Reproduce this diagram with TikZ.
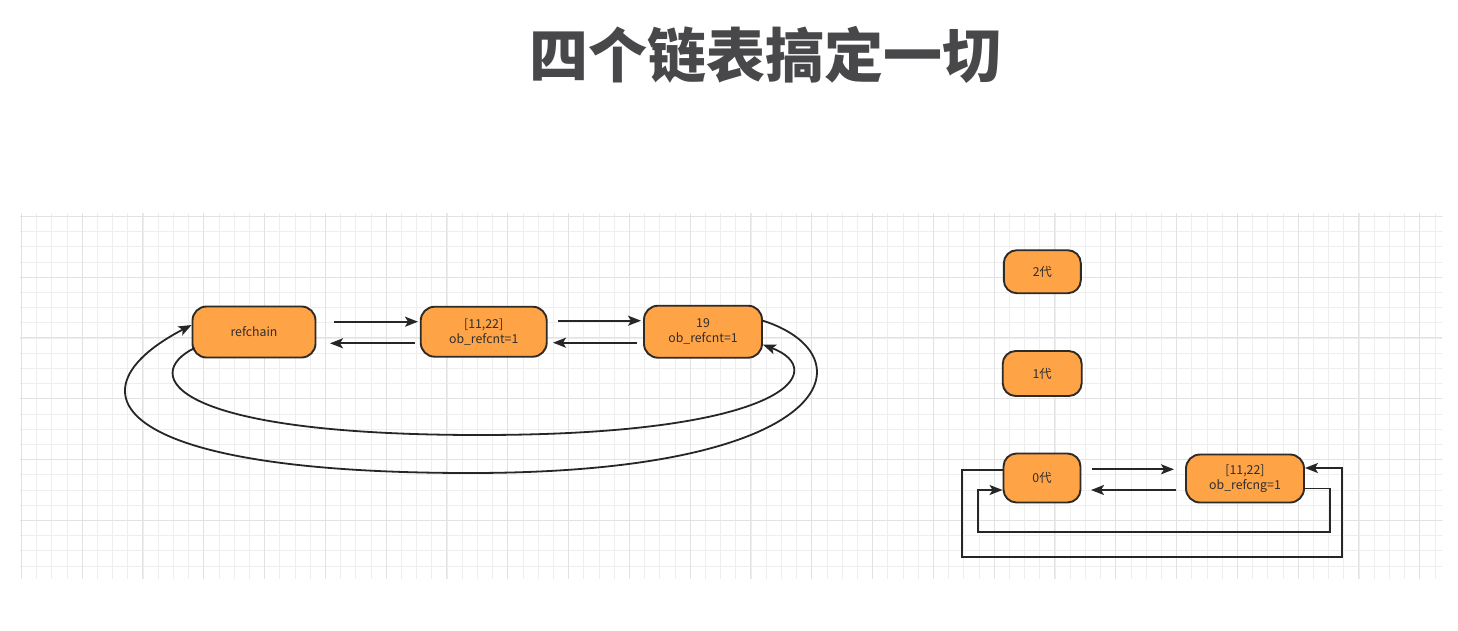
\documentclass[tikz,border=0pt]{standalone}
\usepackage{fontspec}
\newfontfamily\cjk{Noto Sans CJK SC}
\usetikzlibrary{arrows.meta,calc}
\definecolor{boxfill}{HTML}{FFA347}
\definecolor{boxline}{HTML}{2E2A26}
\definecolor{titlecol}{HTML}{48484A}
\definecolor{gridminor}{HTML}{EEEEEE}
\definecolor{gridmajor}{HTML}{E2E2E2}
\definecolor{linecol}{HTML}{262626}
\tikzset{
  box/.style={draw=boxline, fill=boxfill, line width=1.9pt, rounded corners=14pt,
    inner sep=0pt, align=center, font=\cjk\fontsize{12.3}{15}\selectfont, text=black!82},
  conn/.style={draw=linecol, line width=1.8pt, -{Stealth[length=13pt,width=10pt,inset=3pt]}},
}
\begin{document}
\begin{tikzpicture}[x=1pt,y=-1pt]
\useasboundingbox (0,0) rectangle (1458,630);
\fill[white] (0,0) rectangle (1458,630);
% grid
\begin{scope}
\clip (20,213) rectangle (1442,578);
\foreach \i in {-2,...,93} {
  \draw[gridminor, line width=0.8pt] ({21.3+15.2*\i},200) -- ({21.3+15.2*\i},590);
}
\foreach \j in {-1,...,25} {
  \draw[gridminor, line width=0.8pt] (10,{216.3+15.2*\j}) -- (1450,{216.3+15.2*\j});
}
\foreach \i in {0,...,23} {
  \draw[gridmajor, line width=1pt] ({21.3+60.8*\i},200) -- ({21.3+60.8*\i},590);
}
\foreach \j in {0,...,6} {
  \draw[gridmajor, line width=1pt] (10,{216.3+60.8*\j}) -- (1450,{216.3+60.8*\j});
}
\end{scope}
% title
\node[font=\cjk\bfseries\fontsize{59}{66}\selectfont, text=titlecol] (title) at (765,55) {四个链表搞定一切};
% left chain
\node[box, minimum width=123pt, minimum height=51pt] (rc) at (254,332) {refchain};
\node[box, minimum width=126pt, minimum height=50pt] (a) at (483.7,331.7) {[11,22]\\ob\_refcnt=1};
\node[box, minimum width=118pt, minimum height=52pt] (b) at (703,331.7) {19\\ob\_refcnt=1};
\coordinate (r1s) at (334,321.7);
\coordinate (r1e) at (418,321.7);
\draw[conn] (r1s) -- (r1e);
\coordinate (r2s) at (415,343.3);
\coordinate (r2e) at (330,343.3);
\draw[conn] (r2s) -- (r2e);
\coordinate (r3s) at (558,320.7);
\coordinate (r3e) at (641,320.7);
\draw[conn] (r3s) -- (r3e);
\coordinate (r4s) at (637,342.7);
\coordinate (r4e) at (553,342.7);
\draw[conn] (r4s) -- (r4e);
% big loops
\draw[conn] ([yshift=11pt]b.east) .. controls (870,355) and (840,473) .. (470,473)
  .. controls (100,473) and (70,388) .. ([yshift=7pt]rc.west);
\draw[conn] ([xshift=3pt,yshift=-16pt]rc.west) .. controls (140,375) and (170,435) .. (480,435)
  .. controls (790,435) and (830,370) .. ([yshift=-13pt]b.east);
% right side
\node[box, rounded corners=13pt, minimum width=77pt, minimum height=43pt] (g2) at (1042.3,271.7) {2代};
\node[box, rounded corners=13pt, minimum width=79pt, minimum height=45pt] (g1) at (1042.2,373.5) {1代};
\node[box, rounded corners=13pt, minimum width=77pt, minimum height=49pt] (g0) at (1042,478) {0代};
\node[box, minimum width=118pt, minimum height=48pt] (c) at (1245,478.5) {[11,22]\\ob\_refcng=1};
\coordinate (s1s) at (1092,469.3);
\coordinate (s1e) at (1174,469.3);
\draw[conn] (s1s) -- (s1e);
\coordinate (s2s) at (1176,490);
\coordinate (s2e) at (1091,490);
\draw[conn] (s2s) -- (s2e);
\draw[conn] ([yshift=8pt]g0.west) -- (961.7,470) -- (961.7,556.7) -- (1341.7,556.7) -- (1341.7,468) -- ([yshift=10.5pt]c.east);
\draw[conn] ([yshift=-10pt]c.east) -- (1330,488.5) -- (1330,531.7) -- (977.7,531.7) -- (977.7,490) -- ([yshift=-12pt]g0.west);
\end{tikzpicture}
\end{document}
